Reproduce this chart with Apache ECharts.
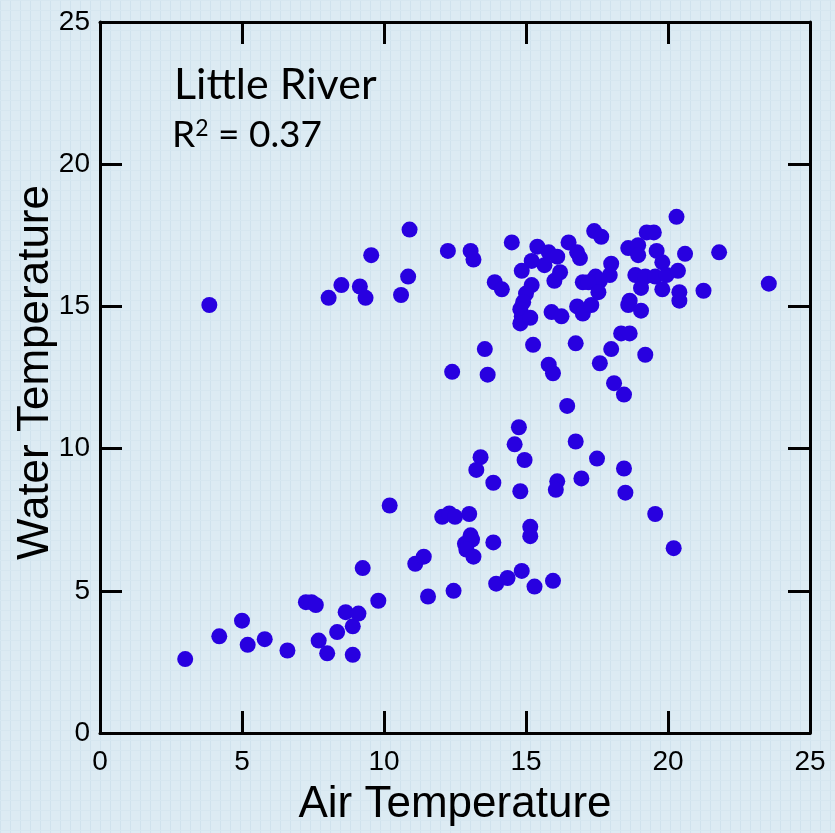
<!DOCTYPE html>
<html>
<head>
<meta charset="utf-8">
<script src="https://cdn.jsdelivr.net/npm/echarts@6/dist/echarts.min.js"></script>
<style>
html,body{margin:0;padding:0;background:#dbe9f2;}
#chart{width:835px;height:833px;}
</style>
</head>
<body>
<div id="chart"></div>
<script>
// ---- Data ----
const xTicks = [0, 5, 10, 15, 20, 25];
const yTicks = [0, 5, 10, 15, 20, 25];
const siteName = 'Little River';
const rSquared = '0.37';
const xTitle = 'Air Temperature';
const yTitle = 'Water Temperature';

// air temperature (x) values
const airTemp = [
  3.0, 4.2, 5.0, 5.2, 5.8, 6.6, 7.25, 7.45, 7.6, 7.7, 8.0, 8.35, 8.65, 8.9, 9.1, 8.9, 9.25, 9.8,
  11.1, 11.4, 11.55, 12.45, 10.2, 12.05, 12.3, 12.5, 13.0, 13.05, 13.1, 12.85, 12.9, 13.15, 13.85,
  15.15, 15.15, 13.95, 14.35, 14.85, 15.3, 15.95,
  16.45, 14.75, 14.6, 16.75, 13.4, 13.25, 14.95, 13.85, 14.8, 16.1, 16.05, 16.95, 17.5, 18.45, 18.5,
  19.55, 20.2,
  12.4, 13.55, 13.65, 15.25, 16.75, 15.8, 15.95, 18.35, 18.65, 18.0, 19.2, 17.6, 18.1, 18.45,
  3.85, 8.05, 8.5, 9.15, 9.35, 9.55, 10.9, 10.85, 10.6,
  12.25, 13.05, 13.15, 14.5, 15.4, 15.8, 16.1, 16.5, 16.8, 16.9, 15.2, 14.85, 15.65, 16.0, 16.2,
  13.9, 14.15, 15.2, 15.0, 14.9, 14.8, 14.85, 14.8, 15.15, 15.9, 16.25, 16.8, 17.0, 17.0,
  20.3, 17.4, 17.65, 19.25, 19.5, 18.6, 18.95, 18.95, 19.6, 19.8, 20.6, 21.8, 23.55, 21.25,
  18.0, 17.95, 17.45, 17.6, 17.2, 17.55, 17.3, 18.85, 19.2, 19.55, 19.95, 20.35, 19.05, 19.8,
  20.4, 20.4, 18.65, 18.6, 19.05
];
// water temperature (y) values
const waterTemp = [
  2.6, 3.4, 3.95, 3.1, 3.3, 2.9, 4.6, 4.6, 4.5, 3.25, 2.8, 3.55, 4.25, 3.75, 4.2, 2.75, 5.8, 4.65,
  5.95, 6.2, 4.8, 5.0, 8.0, 7.6, 7.72, 7.6, 7.7, 6.95, 6.8, 6.65, 6.45, 6.2, 6.7,
  7.25, 6.92, 5.25, 5.45, 5.7, 5.15, 5.35,
  11.5, 10.75, 10.15, 10.25, 9.7, 9.25, 9.6, 8.8, 8.5, 8.85, 8.55, 8.95, 9.65, 9.3, 8.45,
  7.7, 6.5,
  12.7, 13.5, 12.6, 13.65, 13.7, 12.95, 12.65, 14.05, 14.05, 13.5, 13.3, 13.0, 12.3, 11.9,
  15.05, 15.3, 15.75, 15.7, 15.3, 16.8, 17.7, 16.05, 15.4,
  16.95, 16.95, 16.65, 17.25, 17.1, 16.9, 16.75, 17.25, 16.9, 16.7, 16.6, 16.25, 16.45, 15.9, 16.2,
  15.85, 15.6, 15.75, 15.45, 15.15, 14.9, 14.65, 14.4, 14.6, 14.8, 14.65, 15.0, 14.75, 15.85,
  18.15, 17.65, 17.45, 17.6, 17.6, 17.05, 17.15, 16.8, 16.95, 16.55, 16.85, 16.9, 15.8, 15.55,
  16.5, 16.1, 16.05, 15.9, 15.85, 15.5, 15.05, 16.1, 16.05, 16.05, 16.1, 16.25, 15.65, 15.6,
  15.5, 15.2, 15.2, 15.05, 14.85
];

const points = airTemp.map((x, i) => [x, waterTemp[i]]);

// background pattern (paper-like texture)
const pat = document.createElement('canvas');
pat.width = 10; pat.height = 10;
const pc = pat.getContext('2d');
pc.fillStyle = '#dcebf3'; pc.fillRect(0, 0, 10, 10);
pc.fillStyle = '#cfe2ed'; pc.fillRect(0, 0, 1, 10);
pc.fillStyle = '#d6e7f0'; pc.fillRect(0, 0, 10, 1);

const chart = echarts.init(document.getElementById('chart'));
const axisBase = {
  type: 'value',
  min: xTicks[0],
  max: xTicks[xTicks.length - 1],
  interval: xTicks[1] - xTicks[0],
  axisLine: { show: true, onZero: false, lineStyle: { color: '#000', width: 3 } },
  axisTick: { show: true, inside: true, length: 22, lineStyle: { color: '#000', width: 3 } },
  splitLine: { show: false }
};
const labelStyle = { fontSize: 28, color: '#000', fontFamily: 'Liberation Sans, Arial, sans-serif' };
const titleStyle = { fontSize: 44, color: '#000', fontFamily: 'Liberation Sans, Arial, sans-serif' };

chart.setOption({
  backgroundColor: { image: pat, repeat: 'repeat' },
  animation: false,
  grid: { left: 100, right: 25, top: 22, bottom: 100, containLabel: false, outerBoundsMode: 'none' },
  xAxis: [
    Object.assign({}, axisBase, {
      position: 'bottom',
      axisLabel: Object.assign({ margin: 15 }, labelStyle),
      name: xTitle, nameLocation: 'middle', nameGap: 50, nameMoveOverlap: false,
      nameTextStyle: titleStyle
    }),
    Object.assign({}, axisBase, { position: 'top', axisLabel: { show: false } })
  ],
  yAxis: [
    Object.assign({}, axisBase, {
      min: yTicks[0], max: yTicks[yTicks.length - 1], interval: yTicks[1] - yTicks[0],
      position: 'left',
      axisLabel: Object.assign({ margin: 10 }, labelStyle),
      name: yTitle, nameLocation: 'middle', nameGap: 42, nameMoveOverlap: false,
      nameTextStyle: Object.assign({ padding: [0, 0, 0, 10] }, titleStyle)
    }),
    Object.assign({}, axisBase, {
      min: yTicks[0], max: yTicks[yTicks.length - 1], interval: yTicks[1] - yTicks[0],
      position: 'right', axisLabel: { show: false }
    })
  ],
  series: [{
    type: 'scatter',
    xAxisIndex: 0, yAxisIndex: 0,
    data: points,
    symbol: 'circle',
    symbolSize: 16,
    itemStyle: { color: '#2800e0', opacity: 1 }
  }],
  graphic: [
    {
      type: 'text', left: 174, top: 64,
      style: { text: siteName, fontSize: 43, fontFamily: 'Lato, "Open Sans", sans-serif', fill: '#000' }
    },
    {
      type: 'text', left: 172, top: 117,
      style: {
        text: 'R{sup|2} = ' + rSquared,
        fontSize: 37, fontFamily: 'Lato, "Open Sans", sans-serif', fill: '#000',
        rich: { sup: { fontSize: 23, verticalAlign: 'top', padding: [0, 0, 12, 0], fontFamily: 'Lato, "Open Sans", sans-serif', fill: '#000' } }
      }
    }
  ]
});
</script>
</body>
</html>
